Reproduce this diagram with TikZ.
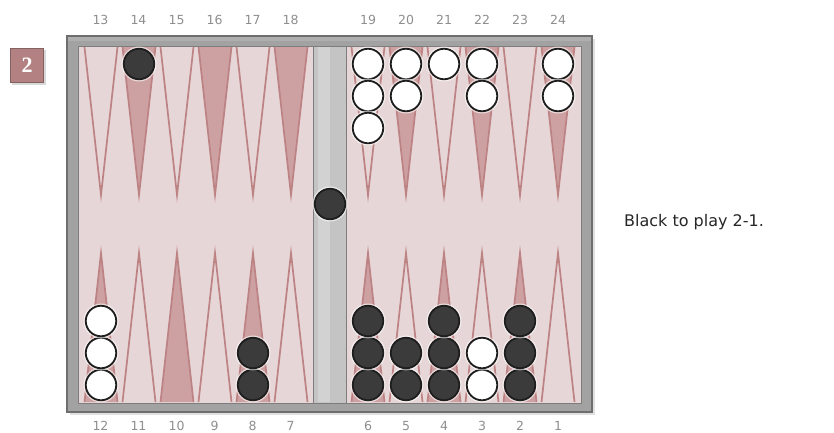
\documentclass[tikz,border=0pt]{standalone}
\usepackage{fontspec}
\setmainfont{DejaVu Sans}
\newfontfamily\boxfont{Liberation Serif}
\definecolor{bgpink}{HTML}{E7D6D7}
\definecolor{tripink}{HTML}{CDA0A1}
\definecolor{triedge}{HTML}{BC8284}
\definecolor{framegray}{HTML}{A2A2A2}
\definecolor{frameline}{HTML}{6E6E6E}
\definecolor{bargray}{HTML}{C4C4C4}
\definecolor{chkblack}{HTML}{3B3B3B}
\definecolor{chkline}{HTML}{1E1E1E}
\definecolor{numgray}{HTML}{8E8E8E}
\definecolor{boxpink}{HTML}{B38182}
\tikzset{
  blk/.style={circle, minimum size=30.5pt, inner sep=0pt, fill=chkblack, draw=chkline, line width=1.8pt,
    preaction={draw=white, line width=4.5pt, opacity=0.6}},
  wht/.style={circle, minimum size=30.5pt, inner sep=0pt, fill=white, draw=chkline, line width=1.8pt,
    preaction={draw=white, line width=4.5pt, opacity=0.6}},
  opentri/.style={fill=bgpink, draw=triedge, line width=1.7pt, line join=miter},
  solidtri/.style={fill=tripink, draw=triedge, line width=1.7pt, line join=miter},
  pointnum/.style={font=\fontsize{12.5}{14}\selectfont, text=numgray, inner sep=0pt},
}
\begin{document}
\begin{tikzpicture}[x=1pt,y=-1pt]
\useasboundingbox (0,0) rectangle (834,432);
% move box
\fill[black, opacity=0.15] (12,50) rectangle (46,85);
\node[fill=boxpink, draw=boxpink!75!black, line width=0.6pt, minimum width=33pt, minimum height=34pt, inner sep=0pt,
  text=white, font=\fontsize{22}{23}\selectfont\boxfont\bfseries] (movebox) at (27,65.5) {2};
% frame with shadow
\fill[black, opacity=0.12] (70,39) rectangle (595,415);
\draw[fill=framegray, draw=frameline, line width=1.5pt] (67,36) rectangle (592,412);
\fill[white, opacity=0.15] (68,37) rectangle (591,41);
% playing areas
\draw[fill=bgpink, draw=frameline!90, line width=1pt] (78,46) rectangle (313,403);
\draw[fill=bgpink, draw=frameline!90, line width=1pt] (346,46) rectangle (581,403);
% bar
\draw[fill=bargray, draw=frameline!90, line width=1pt] (313,46) rectangle (346,403);
\fill[white, opacity=0.25] (318,47) rectangle (330,402);
% points: odd index solid on top, even index solid at bottom
\foreach \i in {0,...,5}{
  \pgfmathsetmacro{\xl}{101+38*\i}
  \pgfmathsetmacro{\xr}{368+38*\i}
  \pgfmathtruncatemacro{\odd}{mod(\i,2)}
  \ifnum\odd=1
    \draw[solidtri] (\xl-16.5,47) -- (\xl,195) -- (\xl+16.5,47);
    \draw[solidtri] (\xr-16.5,47) -- (\xr,195) -- (\xr+16.5,47);
    \draw[opentri] (\xl-16.5,402) -- (\xl,253) -- (\xl+16.5,402);
    \draw[opentri] (\xr-16.5,402) -- (\xr,253) -- (\xr+16.5,402);
  \else
    \draw[opentri] (\xl-16.5,47) -- (\xl,195) -- (\xl+16.5,47);
    \draw[opentri] (\xr-16.5,47) -- (\xr,195) -- (\xr+16.5,47);
    \draw[solidtri] (\xl-16.5,402) -- (\xl,253) -- (\xl+16.5,402);
    \draw[solidtri] (\xr-16.5,402) -- (\xr,253) -- (\xr+16.5,402);
  \fi
}
% point numbers
\foreach \n [count=\i from 0] in {13,14,15,16,17,18}{
  \node[pointnum] (t\n) at (100.5+38*\i,20) {\n};
}
\foreach \n [count=\i from 0] in {19,20,21,22,23,24}{
  \node[pointnum] (t\n) at (368+38*\i,20) {\n};
}
\foreach \n [count=\i from 0] in {12,11,10,9,8,7}{
  \node[pointnum] (b\n) at (100.5+38*\i,426) {\n};
}
\foreach \n [count=\i from 0] in {6,5,4,3,2,1}{
  \node[pointnum] (b\n) at (368+38*\i,426) {\n};
}
% checkers top
\node[blk] (p14a) at (139,64) {};
\node[wht] (p19a) at (368,64) {};
\node[wht] (p19b) at (368,96) {};
\node[wht] (p19c) at (368,128) {};
\node[wht] (p20a) at (406,64) {};
\node[wht] (p20b) at (406,96) {};
\node[wht] (p21a) at (444,64) {};
\node[wht] (p22a) at (482,64) {};
\node[wht] (p22b) at (482,96) {};
\node[wht] (p24a) at (558,64) {};
\node[wht] (p24b) at (558,96) {};
% bar checker
\node[blk] (bar1) at (330,204) {};
% checkers bottom
\node[wht] (p12a) at (101,385) {};
\node[wht] (p12b) at (101,353) {};
\node[wht] (p12c) at (101,321) {};
\node[blk] (p8a) at (253,385) {};
\node[blk] (p8b) at (253,353) {};
\node[blk] (p6a) at (368,385) {};
\node[blk] (p6b) at (368,353) {};
\node[blk] (p6c) at (368,321) {};
\node[blk] (p5a) at (406,385) {};
\node[blk] (p5b) at (406,353) {};
\node[blk] (p4a) at (444,385) {};
\node[blk] (p4b) at (444,353) {};
\node[blk] (p4c) at (444,321) {};
\node[wht] (p3a) at (482,385) {};
\node[wht] (p3b) at (482,353) {};
\node[blk] (p2a) at (520,385) {};
\node[blk] (p2b) at (520,353) {};
\node[blk] (p2c) at (520,321) {};
% caption
\node[anchor=west, inner sep=0pt, font=\fontsize{16}{18}\selectfont, text=black!85] (caption) at (624,222) {Black to play 2-1.};
\end{tikzpicture}
\end{document}
